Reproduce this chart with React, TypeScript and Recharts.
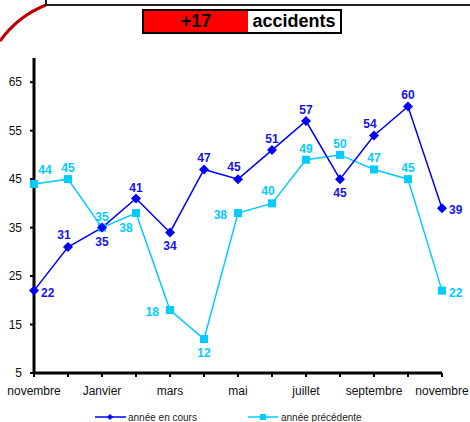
import { LineChart, Line, XAxis, YAxis } from 'recharts'

const months = [
  'novembre', 'décembre', 'Janvier', 'février', 'mars', 'avril', 'mai',
  'juin', 'juillet', 'août', 'septembre', 'octobre', 'novembre'
]
const currentYear = [22, 31, 35, 41, 34, 47, 45, 51, 57, 45, 54, 60, 39]
const previousYear = [44, 45, 35, 38, 18, 12, 38, 40, 49, 50, 47, 45, 22]
const yTicks = [5, 15, 25, 35, 45, 55, 65]

// where each value label sits relative to its point
const currentPlace = ['right', 'topleft', 'bottom', 'top', 'bottom', 'top', 'topleft', 'top', 'top', 'bottom', 'topleft', 'top', 'right']
const previousPlace = ['topright', 'top', 'top', 'bottomleft', 'left', 'bottom', 'left', 'topleft', 'top', 'top', 'top', 'top', 'right']

const data = months.map((m, i) => ({ idx: i, month: m, cur: currentYear[i], prev: previousYear[i] }))

const BLUE = '#0000ff'
const CYAN = '#00ccff'

const makeLabel = (places: string[], color: string) => (props: any) => {
  const { x, y, value, index } = props
  const p = places[index]
  let dx = 0
  let dy = 0
  let anchor: 'start' | 'middle' | 'end' = 'middle'
  if (p === 'top') { dy = -11 }
  if (p === 'topleft') { dx = -4; dy = -12 }
  if (p === 'topright') { dx = 11; dy = -14 }
  if (p === 'bottom') { dy = 14 }
  if (p === 'bottomleft') { dx = -10; dy = 15 }
  if (p === 'right') { dx = 7; dy = 2; anchor = 'start' }
  if (p === 'left') { dx = -11; dy = 2; anchor = 'end' }
  return (
    <text
      x={x + dx}
      y={y + dy}
      textAnchor={anchor}
      dominantBaseline="central"
      fill={color}
      fontSize={12}
      fontWeight="bold"
      fontFamily="Liberation Sans, Arial, sans-serif"
    >
      {value}
    </text>
  )
}

const Diamond = (props: any) => {
  const { cx, cy } = props
  if (cx == null || cy == null) return null
  return <polygon points={`${cx},${cy - 5} ${cx + 5},${cy} ${cx},${cy + 5} ${cx - 5},${cy}`} fill={BLUE} />
}

const Square = (props: any) => {
  const { cx, cy } = props
  if (cx == null || cy == null) return null
  return <rect x={cx - 4} y={cy - 4} width={8} height={8} fill={CYAN} />
}

const font = 'Liberation Sans, Arial, sans-serif'

export default function App() {
  return (
    <div style={{ position: 'absolute', left: 0, top: 0, width: 470, height: 422, background: '#fff', overflow: 'hidden', fontFamily: font }}>
      <svg width={470} height={60} style={{ position: 'absolute', left: 0, top: 0 }}>
        <path d="M0,41 Q18,16 46,5" stroke="#c00000" strokeWidth={3} fill="none" />
        <path d="M46,-2 L46,5 L470,5" stroke="#222" strokeWidth={2} fill="none" />
      </svg>
      <div style={{
        position: 'absolute', left: 142, top: 9, width: 196, height: 21,
        border: '2px solid #000', display: 'flex', background: '#fff'
      }}>
        <div style={{
          width: 104, background: '#ff0000', color: '#000', fontWeight: 'bold',
          fontSize: 18, textAlign: 'center', lineHeight: '21px'
        }}>+17</div>
        <div style={{ flex: 1, color: '#000', fontWeight: 'bold', fontSize: 18, textAlign: 'center', lineHeight: '21px' }}>accidents</div>
      </div>
      <div style={{ position: 'absolute', left: 0, top: 0 }}>
        <LineChart width={470} height={422} data={data} margin={{ top: 58, right: 28, left: 0, bottom: 19 }}>
          <XAxis
            dataKey="idx"
            type="number"
            domain={[0, 12]}
            ticks={months.map((_, i) => i)}
            interval={0}
            tickFormatter={(v: number) => (v % 2 === 0 ? months[v] : '')}
            axisLine={{ stroke: '#000', strokeWidth: 3 }}
            tickLine={{ stroke: '#000', strokeWidth: 2 }}
            tickSize={4}
            tickMargin={9}
            tick={{ fill: '#111', fontSize: 12, fontFamily: font }}
            height={30}
          />
          <YAxis
            domain={[5, 70]}
            ticks={yTicks}
            interval={0}
            width={34}
            axisLine={{ stroke: '#000', strokeWidth: 3 }}
            tickLine={{ stroke: '#000', strokeWidth: 2 }}
            tickSize={4}
            tickMargin={8}
            tick={{ fill: '#111', fontSize: 12, fontFamily: font }}
          />
          <Line
            dataKey="prev"
            stroke={CYAN}
            strokeWidth={1.5}
            dot={<Square />}
            label={makeLabel(previousPlace, CYAN)}
            isAnimationActive={false}
          />
          <Line
            dataKey="cur"
            stroke={BLUE}
            strokeWidth={1.5}
            dot={<Diamond />}
            label={makeLabel(currentPlace, '#1414e6')}
            isAnimationActive={false}
          />
        </LineChart>
      </div>
      <svg width={470} height={20} style={{ position: 'absolute', left: 0, top: 408 }}>
        <line x1={95} y1={9} x2={126} y2={9} stroke={BLUE} strokeWidth={1.5} />
        <polygon points="110,6 113,9 110,12 107,9" fill={BLUE} />
        <text x={128} y={12.5} fontSize={10} fill="#222" fontFamily={font}>année en cours</text>
        <line x1={248} y1={9} x2={278} y2={9} stroke={CYAN} strokeWidth={1.5} />
        <rect x={260} y={6} width={6} height={6} fill={CYAN} />
        <text x={281} y={12.5} fontSize={10} fill="#222" fontFamily={font}>année précédente</text>
      </svg>
    </div>
  )
}
